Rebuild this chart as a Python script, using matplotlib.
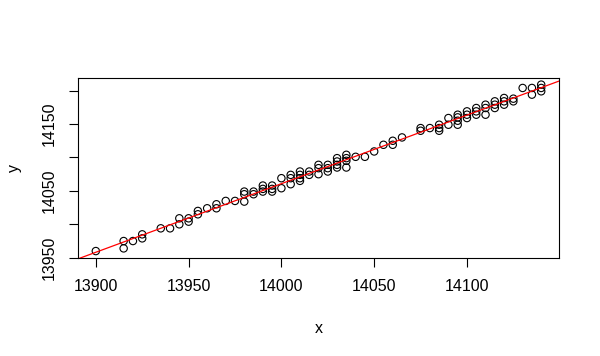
import numpy as np
import matplotlib
matplotlib.use('Agg')
import matplotlib.pyplot as plt

plt.rcParams['font.family'] = ['Liberation Sans', 'DejaVu Sans']

# (x, list of y values at that x)
cols = {
    13900: [13960],
    13915: [13975, 13964],
    13920: [13975],
    13925: [13985, 13979],
    13935: [13994],
    13940: [13994],
    13945: [14009, 14000],
    13950: [14009, 14004],
    13955: [14020, 14015],
    13960: [14024],
    13965: [14030, 14024],
    13970: [14035],
    13975: [14035],
    13980: [14049, 14045, 14034],
    13985: [14049, 14045],
    13990: [14058, 14053, 14049],
    13995: [14058, 14053, 14049],
    14000: [14069, 14054],
    14005: [14074, 14069, 14060],
    14010: [14079, 14074, 14069, 14065],
    14015: [14079, 14074],
    14020: [14089, 14084, 14075],
    14025: [14089, 14084, 14079],
    14030: [14099, 14094, 14089, 14085],
    14035: [14104, 14099, 14095, 14085],
    14040: [14101],
    14045: [14101],
    14050: [14109],
    14055: [14119],
    14060: [14125, 14119],
    14065: [14130],
    14075: [14144, 14140],
    14080: [14144],
    14085: [14149, 14144, 14140],
    14090: [14159, 14149],
    14095: [14164, 14160, 14155, 14149],
    14100: [14169, 14164, 14159],
    14105: [14174, 14169, 14164],
    14110: [14179, 14174, 14164],
    14115: [14184, 14179, 14174],
    14120: [14189, 14184, 14179],
    14125: [14188, 14184],
    14130: [14204],
    14135: [14204, 14194],
    14140: [14209, 14204, 14199],
}

x = np.array([k for k, v in cols.items() for _ in v], dtype=float)
y = np.array([yy for v in cols.values() for yy in v], dtype=float)

fig = plt.figure(figsize=(6, 3.56), dpi=100)
ax = fig.add_axes([0.13, 0.276, 0.8017, 0.505])

ax.scatter(x, y, s=28, facecolors='none', edgecolors='black', linewidths=0.8, zorder=3)

# R style axis limits: data range extended by 4 %
xr = x.max() - x.min()
yr = y.max() - y.min()
ax.set_xlim(x.min() - 0.04 * xr, x.max() + 0.04 * xr)
ax.set_ylim(y.min() - 0.04 * yr, y.max() + 0.04 * yr)

# fitted line
b, a = np.polyfit(x, y, 1)
xl = np.array(ax.get_xlim())
ax.plot(xl, a + b * xl, color='red', lw=0.9, zorder=4)

ax.set_xticks([13900, 13950, 14000, 14050, 14100])
ax.set_yticks([13950, 14000, 14050, 14100, 14150, 14200])
ax.set_yticklabels(['13950', '', '14050', '', '14150', ''])
plt.setp(ax.get_yticklabels(), rotation=90, va='center')
ax.tick_params(direction='out', length=6.5, width=0.8, labelsize=11.5, pad=9)
for s in ax.spines.values():
    s.set_linewidth(0.8)

ax.set_xlabel('x', fontsize=11.5, labelpad=19)
ax.set_ylabel('y', fontsize=11.5, labelpad=14)

fig.savefig('out.png', dpi=100)
